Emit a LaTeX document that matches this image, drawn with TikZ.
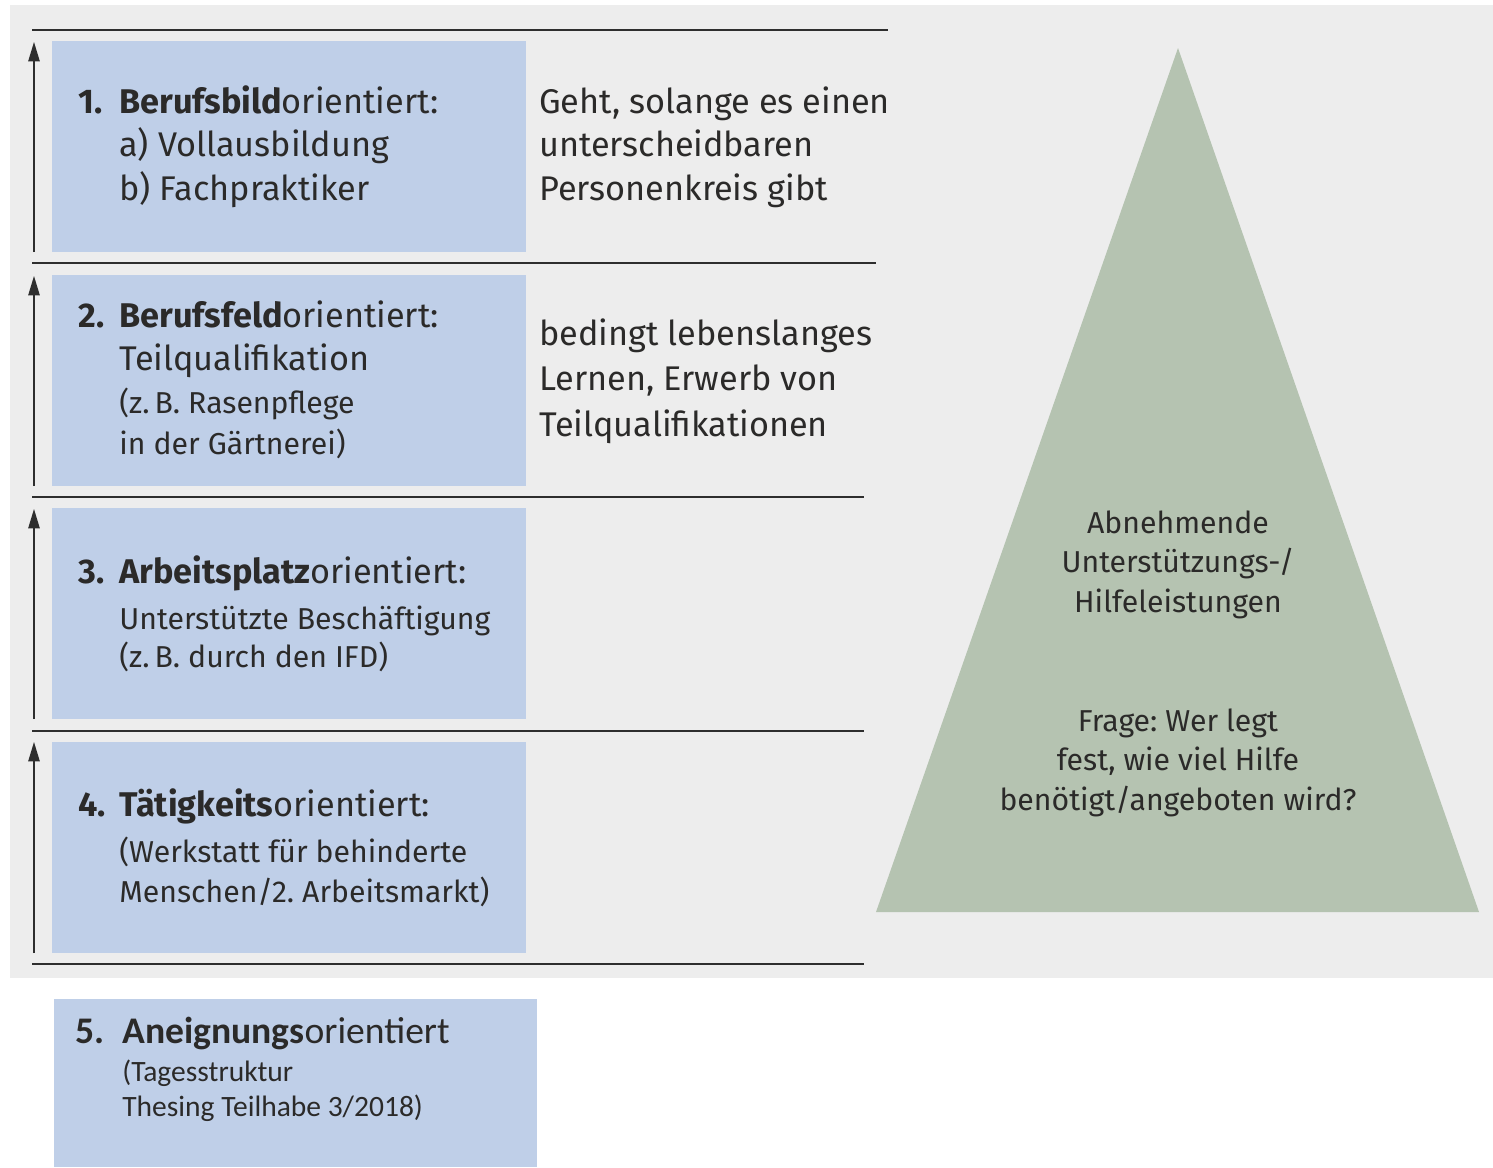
\documentclass[tikz,border=0pt]{standalone}
\usepackage{fontspec}
\setmainfont{Fira Sans}
\newfontfamily\calibrifont{Carlito}
\usetikzlibrary{arrows.meta}
\frenchspacing

\definecolor{bggray}{HTML}{EDEDED}
\definecolor{boxblue}{HTML}{BFCFE8}
\definecolor{pyrgreen}{HTML}{B5C3B1}
\definecolor{rulegray}{HTML}{2E2E2E}
\definecolor{txtdark}{HTML}{2B2A29}

\newcommand{\bigtxt}{\fontsize{19.5}{25}\selectfont}
\newcommand{\midtxt}{\fontsize{17.2}{22.5}\selectfont}

\begin{document}
\begin{tikzpicture}[x=0.02cm, y=-0.02cm,
    rule/.style={draw=rulegray, line width=1.1pt},
    uparrow/.style={draw=rulegray, line width=0.7pt, -{Triangle[length=11pt,width=6.5pt]}},
    txt/.style={anchor=base west, inner sep=0pt, text=txtdark},
    ctxt/.style={anchor=base, inner sep=0pt, text=txtdark}]
    \useasboundingbox (0,0) rectangle (1493,1167);

    % background and pyramid
    \fill[bggray] (10,5) rectangle (1493,978);
    \fill[pyrgreen] (1178,48) coordinate (apex) -- (876,912) coordinate (baseL)
        -- (1479,912) coordinate (baseR) -- cycle;

    % rules between the levels
    \draw[rule] (32,30) -- (888,30);
    \draw[rule] (32,263) -- (876,263);
    \draw[rule] (32,497) -- (864,497);
    \draw[rule] (32,731) -- (864,731);
    \draw[rule] (32,964) -- (864,964);

    % blue boxes
    \fill[boxblue] (52,41) rectangle (526,252);
    \fill[boxblue] (52,275) rectangle (526,486);
    \fill[boxblue] (52,508) rectangle (526,719);
    \fill[boxblue] (52,742) rectangle (526,953);
    \fill[boxblue] (54,999) rectangle (537,1167);

    % arrows
    \draw[uparrow] (34,252) -- (34,42);
    \draw[uparrow] (34,486) -- (34,276);
    \draw[uparrow] (34,719) -- (34,509);
    \draw[uparrow] (34,953) -- (34,742);

    % level texts
    \node[txt] (lvl1) at (78,113) {\bigtxt\begin{tabular}[t]{@{}p{0.82cm}@{}l@{}}
        \textbf{1.} & \textbf{Berufsbild}orientiert:\\
        & a) Vollausbildung\\
        & b) Fachpraktiker
        \end{tabular}};
    \node[txt] (lvl2) at (78,327) {\bigtxt\begin{tabular}[t]{@{}p{0.82cm}@{}l@{}}
        \textbf{2.} & \textbf{Berufsfeld}orientiert:\\
        & Teilqualifikation\\[-0.5pt]
        & \midtxt(z.\,B. Rasenpflege\\[-2.2pt]
        & \midtxt in der Gärtnerei)
        \end{tabular}};
    \node[txt] (lvl3) at (78,583) {\bigtxt\begin{tabular}[t]{@{}p{0.82cm}@{}l@{}}
        \textbf{3.} & \textbf{Arbeitsplatz}orientiert:\\[1.7pt]
        & \midtxt Unterstützte Beschäftigung\\[-3.4pt]
        & \midtxt(z.\,B. durch den IFD)
        \end{tabular}};
    \node[txt] (lvl4) at (78,816) {\bigtxt\begin{tabular}[t]{@{}p{0.82cm}@{}l@{}}
        \textbf{4.} & \textbf{Tätigkeits}orientiert:\\[1.2pt]
        & \midtxt(Werkstatt für behinderte\\[-1.7pt]
        & \midtxt Menschen/2. Arbeitsmarkt)
        \end{tabular}};
    \node[txt] (lvl5) at (75,1043) {\calibrifont\fontsize{21.4}{22}\selectfont
        \begin{tabular}[t]{@{}p{0.94cm}@{}l@{}}
        \textbf{5.} & \textbf{Aneignungs}orientiert\\
        & \fontsize{16.8}{20}\selectfont(Tagesstruktur\\[-2.1pt]
        & \fontsize{16.8}{20}\selectfont Thesing Teilhabe 3/2018)
        \end{tabular}};

    % comments on the right
    \node[txt] (note1) at (539,113) {\bigtxt\begin{tabular}[t]{@{}l@{}}
        Geht, solange es einen\\
        unterscheidbaren\\
        Personenkreis gibt
        \end{tabular}};
    \node[txt] (note2) at (539,345) {\bigtxt\begin{tabular}[t]{@{}l@{}}
        bedingt lebenslanges\\[1pt]
        Lernen, Erwerb von\\[1pt]
        Teilqualifikationen
        \end{tabular}};

    % pyramid texts
    \node[ctxt] (pyr1) at (1178,533) {\midtxt\begin{tabular}[t]{@{}c@{}}
        Abnehmende\\
        Unterstützungs-/\\
        Hilfeleistungen
        \end{tabular}};
    \node[ctxt] (pyr2) at (1178,731) {\midtxt\begin{tabular}[t]{@{}c@{}}
        Frage: Wer legt\\
        fest, wie viel Hilfe\\
        benötigt/angeboten wird?
        \end{tabular}};
\end{tikzpicture}
\end{document}
